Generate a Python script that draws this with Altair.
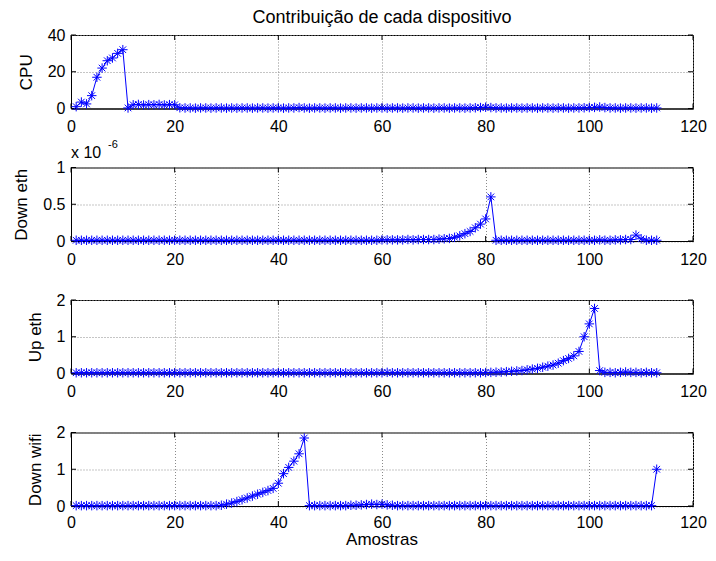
import altair as alt
import pandas as pd

# ---------------- data ----------------
samples = list(range(1, 114))

cpu = [
    1.0, 3.5, 2.5, 7.0, 17.0, 22.0, 26.0, 27.5, 30.0, 32.0,
    0.3, 2.0, 2.2, 1.9, 2.1, 2.0, 2.2, 1.9, 2.1, 2.0,
    0.4, 0.3, 0.3, 0.2, 0.3, 0.3, 0.2, 0.3, 0.3, 0.2,
    0.3, 0.2, 0.3, 0.3, 0.2, 0.3, 0.3, 0.2, 0.3, 0.3,
    0.2, 0.3, 0.3, 0.5, 0.3, 0.2, 0.3, 0.3, 0.2, 0.3,
    0.3, 0.2, 0.3, 0.3, 0.2, 0.3, 0.3, 0.2, 0.3, 0.3,
    0.2, 0.3, 0.3, 0.2, 0.3, 0.3, 0.2, 0.3, 0.3, 0.2,
    0.3, 0.3, 0.2, 0.3, 0.3, 0.2, 0.3, 0.4, 0.5, 0.7,
    0.5, 0.3, 0.3, 0.2, 0.3, 0.3, 0.2, 0.3, 0.3, 0.2,
    0.3, 0.3, 0.2, 0.3, 0.3, 0.2, 0.3, 0.3, 0.4, 0.5,
    0.6, 0.8, 0.5, 0.3, 0.3, 0.2, 0.3, 0.3, 0.2, 0.3,
    0.3, 0.2, 0.3,
]

# values in units of 1e-6
down_eth = [
    0.01, 0.01, 0.01, 0.01, 0.01, 0.01, 0.01, 0.01, 0.01, 0.01,
    0.01, 0.01, 0.01, 0.01, 0.01, 0.01, 0.01, 0.01, 0.01, 0.01,
    0.01, 0.01, 0.01, 0.01, 0.01, 0.01, 0.01, 0.01, 0.01, 0.01,
    0.01, 0.01, 0.01, 0.01, 0.01, 0.01, 0.01, 0.01, 0.01, 0.01,
    0.01, 0.01, 0.01, 0.01, 0.01, 0.01, 0.01, 0.01, 0.01, 0.01,
    0.01, 0.01, 0.01, 0.01, 0.01, 0.01, 0.01, 0.01, 0.01, 0.015,
    0.015, 0.015, 0.015, 0.015, 0.02, 0.015, 0.02, 0.02, 0.02, 0.02,
    0.025, 0.03, 0.035, 0.05, 0.07, 0.10, 0.13, 0.18, 0.23, 0.30,
    0.60, 0.01, 0.01, 0.01, 0.01, 0.01, 0.01, 0.01, 0.01, 0.01,
    0.01, 0.01, 0.01, 0.01, 0.01, 0.01, 0.01, 0.01, 0.01, 0.01,
    0.01, 0.015, 0.01, 0.01, 0.015, 0.015, 0.02, 0.02, 0.08, 0.03,
    0.01, 0.01, 0.01,
]

up_eth = [
    0.02, 0.02, 0.02, 0.02, 0.02, 0.02, 0.02, 0.02, 0.02, 0.02,
    0.02, 0.02, 0.02, 0.02, 0.02, 0.02, 0.02, 0.02, 0.02, 0.02,
    0.02, 0.02, 0.02, 0.02, 0.02, 0.02, 0.02, 0.02, 0.02, 0.02,
    0.02, 0.02, 0.02, 0.02, 0.02, 0.02, 0.02, 0.02, 0.02, 0.02,
    0.02, 0.02, 0.02, 0.02, 0.02, 0.02, 0.02, 0.02, 0.02, 0.02,
    0.02, 0.02, 0.02, 0.02, 0.02, 0.02, 0.02, 0.02, 0.02, 0.02,
    0.03, 0.02, 0.02, 0.02, 0.02, 0.02, 0.02, 0.02, 0.02, 0.02,
    0.02, 0.02, 0.02, 0.02, 0.02, 0.02, 0.02, 0.02, 0.02, 0.025,
    0.03, 0.035, 0.04, 0.05, 0.06, 0.07, 0.08, 0.10, 0.12, 0.14,
    0.17, 0.20, 0.23, 0.28, 0.35, 0.41, 0.48, 0.60, 1.00, 1.35,
    1.77, 0.08, 0.03, 0.03, 0.02, 0.03, 0.04, 0.03, 0.03, 0.02,
    0.03, 0.02, 0.02,
]

down_wifi = [
    0.01, 0.01, 0.01, 0.01, 0.01, 0.01, 0.01, 0.01, 0.01, 0.01,
    0.01, 0.01, 0.01, 0.01, 0.01, 0.01, 0.01, 0.01, 0.01, 0.01,
    0.01, 0.01, 0.01, 0.01, 0.01, 0.01, 0.01, 0.01, 0.02, 0.05,
    0.08, 0.12, 0.17, 0.22, 0.27, 0.32, 0.37, 0.42, 0.48, 0.62,
    0.88, 1.05, 1.22, 1.42, 1.85, 0.01, 0.01, 0.01, 0.01, 0.01,
    0.01, 0.01, 0.01, 0.02, 0.02, 0.03, 0.04, 0.05, 0.04, 0.05,
    0.03, 0.02, 0.01, 0.01, 0.01, 0.01, 0.01, 0.01, 0.01, 0.01,
    0.01, 0.01, 0.01, 0.01, 0.01, 0.01, 0.01, 0.01, 0.01, 0.01,
    0.01, 0.01, 0.01, 0.01, 0.01, 0.01, 0.01, 0.01, 0.01, 0.01,
    0.01, 0.01, 0.01, 0.01, 0.01, 0.01, 0.01, 0.01, 0.01, 0.01,
    0.01, 0.01, 0.01, 0.01, 0.01, 0.01, 0.01, 0.01, 0.01, 0.01,
    0.01, 0.01, 1.00,
]

x_ticks = [0, 20, 40, 60, 80, 100, 120]
x_domain = [0, 120]

panel_names = ["CPU", "Down eth", "Up eth", "Down wifi"]
panel_values = [cpu, down_eth, up_eth, down_wifi]
panel_domains = [[0, 40], [0, 1], [0, 2], [0, 2]]
panel_yticks = [[0, 20, 40], [0, 0.5, 1], [0, 1, 2], [0, 1, 2]]

title_text = "Contribuição de cada dispositivo"
x_title = "Amostras"

# ---------------- style ----------------
FONT = "Liberation Sans"
BLUE = "#0000ff"
W, H = 622, 73.5
STAR = "M-1,0L1,0M0,-1L0,1M-0.7,-0.7L0.7,0.7M-0.7,0.7L0.7,-0.7"


def make_panel(i):
    name = panel_names[i]
    df = pd.DataFrame({"x": samples, "y": panel_values[i]})
    xs = alt.Scale(domain=x_domain, nice=False, zero=False)
    ys = alt.Scale(domain=panel_domains[i], nice=False, zero=False)
    last = i == len(panel_names) - 1
    xaxis = alt.Axis(values=x_ticks, format=".1~f", title=None,
                     grid=True, ticks=False, tickSize=0,
                     labelPadding=8 if last else 10)
    yaxis = alt.Axis(values=panel_yticks[i], format=".1~f", title=name,
                     grid=True, ticks=False, tickSize=0, labelPadding=6,
                     titlePadding=12)
    X = alt.X("x:Q", scale=xs, axis=xaxis)
    Y = alt.Y("y:Q", scale=ys, axis=yaxis)

    line = alt.Chart(df).mark_line(color=BLUE, strokeWidth=1).encode(x=X, y=Y)
    pts = alt.Chart(df).mark_point(shape=STAR, size=90, filled=False, color=BLUE,
                                   strokeWidth=1, opacity=1).encode(x=X, y=Y)

    dxt = pd.DataFrame({"x": x_ticks})
    dyt = pd.DataFrame({"y": panel_yticks[i]})
    tb = alt.Chart(dxt).mark_rule(color="black", strokeWidth=1).encode(
        x=X, y=alt.value(H), y2=alt.value(H - 5))
    tt = alt.Chart(dxt).mark_rule(color="black", strokeWidth=1).encode(
        x=X, y=alt.value(0), y2=alt.value(5))
    tl = alt.Chart(dyt).mark_rule(color="black", strokeWidth=1).encode(
        y=Y, x=alt.value(0), x2=alt.value(5))
    tr = alt.Chart(dyt).mark_rule(color="black", strokeWidth=1).encode(
        y=Y, x=alt.value(W), x2=alt.value(W - 5))

    layers = [tb, tt, tl, tr, line, pts]
    one = pd.DataFrame({"a": [0]})
    if i == 0:
        layers.append(alt.Chart(one).mark_text(
            text=title_text, align="center", baseline="alphabetic",
            font=FONT, fontSize=18, color="black").encode(
            x=alt.value(W / 2), y=alt.value(-12)))
    if name == "Down eth":
        layers.append(alt.Chart(one).mark_text(
            text="x 10", align="left", baseline="alphabetic",
            font=FONT, fontSize=16, color="black").encode(
            x=alt.value(0), y=alt.value(-10)))
        layers.append(alt.Chart(one).mark_text(
            text="-6", align="left", baseline="alphabetic",
            font=FONT, fontSize=11, color="black").encode(
            x=alt.value(37), y=alt.value(-20)))
    if last:
        layers.append(alt.Chart(one).mark_text(
            text=x_title, align="center", baseline="bottom",
            font=FONT, fontSize=17, color="black").encode(
            x=alt.value(W / 2), y=alt.value(H + 43)))
    return alt.layer(*layers).properties(width=W, height=H)


chart = alt.vconcat(*[make_panel(i) for i in range(4)], spacing=58.5, bounds="flush").properties(
    padding={"left": 4, "top": 0, "right": 0, "bottom": 0}
).configure_view(
    stroke="black", strokeWidth=1
).configure_axis(
    domainColor="black", domainWidth=1,
    labelFont=FONT, labelFontSize=16, labelColor="black",
    titleFont=FONT, titleFontSize=17, titleFontWeight="normal", titleColor="black",
    gridColor="#8a8a8a", gridDash=[1, 2], gridWidth=1, gridOpacity=1,
    labelFlush=False, labelOverlap=False,
)

chart.save("out.html", embed_options={"renderer": "svg", "actions": False})
